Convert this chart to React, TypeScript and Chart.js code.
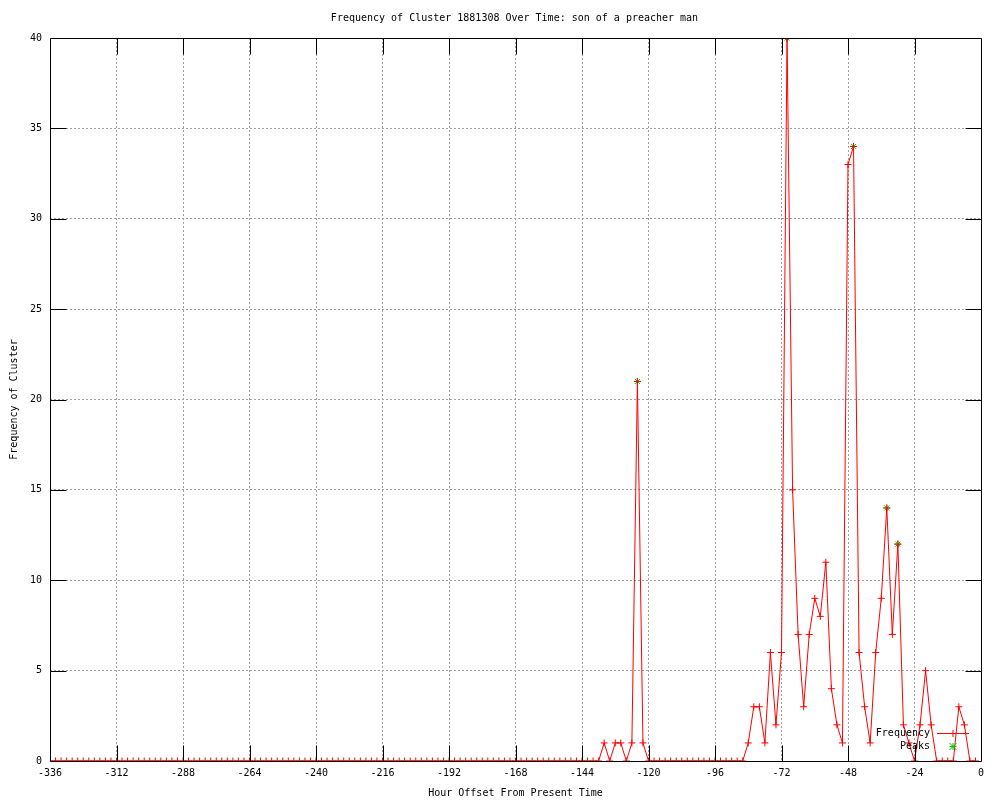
import React, { useEffect, useRef } from "react";
import { Chart, registerables } from "chart.js";

Chart.register(...registerables);

const TITLE = "Frequency of Cluster 1881308 Over Time: son of a preacher man";
const X_TITLE = "Hour Offset From Present Time";
const Y_TITLE = "Frequency of Cluster";

const hours: number[] = [
  -336, -334, -332, -330, -328, -326, -324, -322, -320, -318, -316, -314,
  -312, -310, -308, -306, -304, -302, -300, -298, -296, -294, -292, -290,
  -288, -286, -284, -282, -280, -278, -276, -274, -272, -270, -268, -266,
  -264, -262, -260, -258, -256, -254, -252, -250, -248, -246, -244, -242,
  -240, -238, -236, -234, -232, -230, -228, -226, -224, -222, -220, -218,
  -216, -214, -212, -210, -208, -206, -204, -202, -200, -198, -196, -194,
  -192, -190, -188, -186, -184, -182, -180, -178, -176, -174, -172, -170,
  -168, -166, -164, -162, -160, -158, -156, -154, -152, -150, -148, -146,
  -144, -142, -140, -138, -136, -134, -132, -130, -128, -126, -124, -122,
  -120, -118, -116, -114, -112, -110, -108, -106, -104, -102, -100, -98,
  -96, -94, -92, -90, -88, -86, -84, -82, -80, -78, -76, -74,
  -72, -70, -68, -66, -64, -62, -60, -58, -56, -54, -52, -50,
  -48, -46, -44, -42, -40, -38, -36, -34, -32, -30, -28, -26,
  -24, -22, -20, -18, -16, -14, -12, -10, -8, -6, -4, -2,
];

const frequency: number[] = [
  0, 0, 0, 0, 0, 0, 0, 0, 0, 0, 0, 0,
  0, 0, 0, 0, 0, 0, 0, 0, 0, 0, 0, 0,
  0, 0, 0, 0, 0, 0, 0, 0, 0, 0, 0, 0,
  0, 0, 0, 0, 0, 0, 0, 0, 0, 0, 0, 0,
  0, 0, 0, 0, 0, 0, 0, 0, 0, 0, 0, 0,
  0, 0, 0, 0, 0, 0, 0, 0, 0, 0, 0, 0,
  0, 0, 0, 0, 0, 0, 0, 0, 0, 0, 0, 0,
  0, 0, 0, 0, 0, 0, 0, 0, 0, 0, 0, 0,
  0, 0, 0, 0, 1, 0, 1, 1, 0, 1, 21, 1,
  0, 0, 0, 0, 0, 0, 0, 0, 0, 0, 0, 0,
  0, 0, 0, 0, 0, 0, 1, 3, 3, 1, 6, 2,
  6, 40, 15, 7, 3, 7, 9, 8, 11, 4, 2, 1,
  33, 34, 6, 3, 1, 6, 9, 14, 7, 12, 2, 1,
  0, 2, 5, 2, 0, 0, 0, 0, 3, 2, 0, 0,
];

const peakHours: number[] = [-124, -70, -46, -34, -30];
const peakValues: number[] = [21, 40, 34, 14, 12];

const X_MIN = -336;
const X_MAX = 0;
const X_STEP = 24;
const Y_MIN = 0;
const Y_MAX = 40;
const Y_STEP = 5;

const FONT_FAMILY = "'DejaVu Sans Mono', 'Liberation Mono', monospace";
const RED = "#ff0000";
const GREEN = "#00c000";

const framePlugin = {
  id: "gnuplotFrame",
  beforeDraw(chart: any) {
    const { ctx, width, height } = chart;
    ctx.save();
    ctx.fillStyle = "#ffffff";
    ctx.fillRect(0, 0, width, height);
    ctx.restore();
  },
  afterDatasetsDraw(chart: any) {
    const { ctx, chartArea } = chart;
    const { left, right, top, bottom } = chartArea;
    const xs = chart.scales.x;
    const ys = chart.scales.y;
    const L = Math.round(left) + 0.5;
    const R = Math.round(right) + 0.5;
    const T = Math.round(top) + 0.5;
    const B = Math.round(bottom) + 0.5;
    const tickLen = 16;
    ctx.save();
    ctx.strokeStyle = "#000000";
    ctx.lineWidth = 1;
    ctx.setLineDash([]);
    ctx.beginPath();
    ctx.rect(L, T, R - L, B - T);
    xs.ticks.forEach((t: any) => {
      if (t.value <= X_MIN || t.value >= X_MAX) return;
      const px = Math.round(xs.getPixelForValue(t.value)) + 0.5;
      ctx.moveTo(px, B);
      ctx.lineTo(px, B - tickLen);
      ctx.moveTo(px, T);
      ctx.lineTo(px, T + tickLen);
    });
    ys.ticks.forEach((t: any) => {
      if (t.value <= Y_MIN || t.value >= Y_MAX) return;
      const py = Math.round(ys.getPixelForValue(t.value)) + 0.5;
      ctx.moveTo(L, py);
      ctx.lineTo(L + tickLen, py);
      ctx.moveTo(R, py);
      ctx.lineTo(R - tickLen, py);
    });
    ctx.stroke();

    // title (centred like gnuplot's)
    ctx.font = `10px ${FONT_FAMILY}`;
    ctx.fillStyle = "#000000";
    ctx.textAlign = "center";
    ctx.textBaseline = "middle";
    ctx.fillText(TITLE, 514.5, 18);

    // legend (inside, bottom right)
    const datasets = chart.data.datasets;
    const textRight = right - 51;
    const sampleL = right - 44;
    const sampleR = right - 12;
    const sampleMid = (sampleL + sampleR) / 2;
    const rowY = [bottom - 28, bottom - 15];
    ctx.textAlign = "right";
    ctx.textBaseline = "middle";
    datasets.forEach((ds: any, i: number) => {
      const y = Math.round(rowY[i]) + 0.5;
      ctx.fillStyle = "#000000";
      ctx.fillText(ds.label, textRight, y);
      if (i === 0) {
        ctx.strokeStyle = RED;
        ctx.beginPath();
        ctx.moveTo(sampleL, y);
        ctx.lineTo(sampleR, y);
        ctx.moveTo(sampleMid - 3.5, y);
        ctx.lineTo(sampleMid + 3.5, y);
        ctx.moveTo(sampleMid, y - 3.5);
        ctx.lineTo(sampleMid, y + 3.5);
        ctx.stroke();
      } else {
        ctx.strokeStyle = GREEN;
        const r = 3.5;
        ctx.beginPath();
        ctx.moveTo(sampleMid - r, y - r);
        ctx.lineTo(sampleMid + r, y + r);
        ctx.moveTo(sampleMid - r, y + r);
        ctx.lineTo(sampleMid + r, y - r);
        ctx.moveTo(sampleMid - r, y);
        ctx.lineTo(sampleMid + r, y);
        ctx.moveTo(sampleMid, y - r);
        ctx.lineTo(sampleMid, y + r);
        ctx.stroke();
      }
    });
    ctx.restore();
  },
};

export default function App() {
  const canvasRef = useRef<HTMLCanvasElement | null>(null);

  useEffect(() => {
    const canvas = canvasRef.current;
    if (!canvas) return;
    const font = { family: FONT_FAMILY, size: 10, weight: "normal" as const };
    const chart = new Chart(canvas, {
      type: "line",
      data: {
        datasets: [
          {
            label: "Frequency",
            data: hours.map((h, i) => ({ x: h, y: frequency[i] })),
            borderColor: RED,
            backgroundColor: RED,
            borderWidth: 1,
            pointStyle: "cross",
            pointRadius: 3.5,
            pointBorderWidth: 1,
            pointBorderColor: RED,
            pointBackgroundColor: RED,
            tension: 0,
            fill: false,
          },
          {
            label: "Peaks",
            data: peakHours.map((h, i) => ({ x: h, y: peakValues[i] })),
            showLine: false,
            borderColor: GREEN,
            backgroundColor: GREEN,
            pointStyle: "star",
            pointRadius: 3.5,
            pointBorderWidth: 1,
            pointBorderColor: GREEN,
            pointBackgroundColor: GREEN,
            fill: false,
          },
        ],
      },
      options: {
        responsive: false,
        animation: false,
        devicePixelRatio: 1,
        layout: { padding: { left: 0, right: 19, top: 38, bottom: 0 } },
        plugins: {
          legend: { display: false },
          tooltip: { enabled: false },
          title: { display: false },
        },
        scales: {
          x: {
            type: "linear",
            min: X_MIN,
            max: X_MAX,
            ticks: {
              stepSize: X_STEP,
              color: "#000000",
              font,
              padding: 6,
              maxRotation: 0,
              autoSkip: false,
            },
            grid: { color: "#a0a0a0", drawTicks: false, lineWidth: 1 },
            border: { display: false, dash: [2, 2] },
            title: {
              display: true,
              text: X_TITLE,
              color: "#000000",
              font,
              padding: { top: 4, bottom: 1 },
            },
            afterFit: (s: any) => {
              s.height = 39;
            },
          },
          y: {
            type: "linear",
            min: Y_MIN,
            max: Y_MAX,
            ticks: {
              stepSize: Y_STEP,
              color: "#000000",
              font,
              padding: 8,
            },
            grid: { color: "#a0a0a0", drawTicks: false, lineWidth: 1 },
            border: { display: false, dash: [2, 2] },
            title: {
              display: true,
              text: Y_TITLE,
              color: "#000000",
              font,
              padding: { top: 8, bottom: 0 },
            },
            afterFit: (s: any) => {
              s.width = 50;
            },
          },
        },
      },
      plugins: [framePlugin],
    });
    return () => chart.destroy();
  }, []);

  return (
    <div style={{ position: "fixed", left: 0, top: 0, width: 1000, height: 800, background: "#ffffff" }}>
      <canvas ref={canvasRef} width={1000} height={800} style={{ display: "block" }} />
    </div>
  );
}
